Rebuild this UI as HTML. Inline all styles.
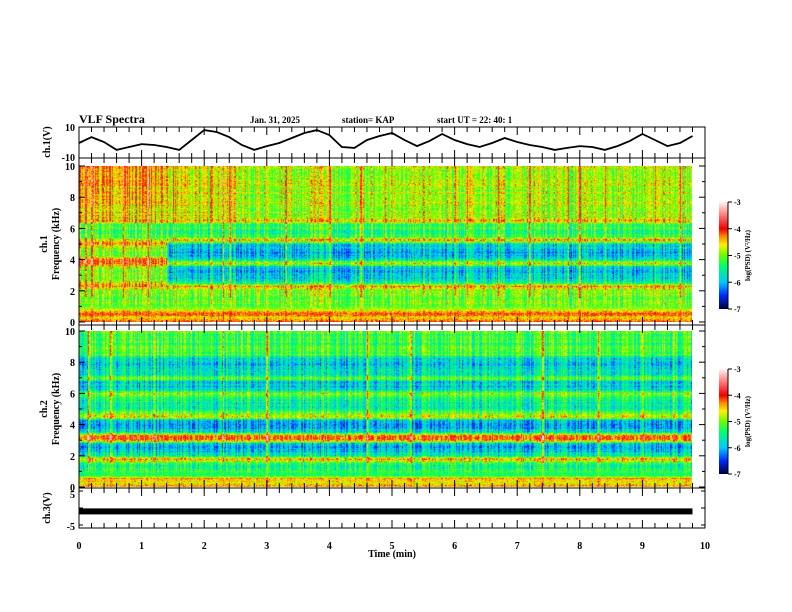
<!DOCTYPE html>
<html><head><meta charset="utf-8">
<style>
html,body{margin:0;padding:0;background:#fff;}
#wrap{position:relative;width:792px;height:612px;overflow:hidden;font-family:"Liberation Serif",serif;}
canvas{position:absolute;}
svg{position:absolute;left:0;top:0;}
text{font-family:"Liberation Serif",serif;font-weight:bold;fill:#000;}
</style></head>
<body>
<div id="wrap">
<canvas id="spec1" width="613" height="156" style="left:79px;top:166px"></canvas>
<canvas id="spec2" width="613" height="156" style="left:79px;top:331px"></canvas>
<svg id="svg" width="792" height="612"></svg>
</div>
<script>
// ---- data ----
const ch1Times = [0,0.2,0.4,0.6,0.8,1.0,1.2,1.4,1.6,1.8,2.0,2.2,2.4,2.6,2.8,3.0,3.2,3.4,3.6,3.8,4.0,4.2,4.4,4.6,4.8,5.0,5.2,5.4,5.6,5.8,6.0,6.2,6.4,6.6,6.8,7.0,7.2,7.4,7.6,7.8,8.0,8.2,8.4,8.6,8.8,9.0,9.2,9.4,9.6,9.8];
const ch1Volts = [-0.3,3.5,0.3,-4.8,-2.9,-1,-1.6,-2.9,-4.8,1.6,8,6.8,3.5,-1.6,-4.8,-2.3,-0.3,2.9,6.1,8,4.8,-2.9,-3.5,1.6,4.2,6.1,1.6,-2.3,1,5.5,1.6,-1,-2.9,-0.3,2.9,0.3,-1.6,-2.9,-4.8,-3.5,-2.3,-2.9,-4.8,-2.3,1,5.5,1.6,-2.3,-0.3,4.2];
const ch3Level = -1.0;
const freqs = [0,0.25,0.5,0.75,1,1.25,1.5,1.75,2,2.25,2.5,2.75,3,3.25,3.5,3.75,4,4.25,4.5,4.75,5,5.25,5.5,5.75,6,6.25,6.5,6.75,7,7.25,7.5,7.75,8,8.25,8.5,8.75,9,9.25,9.5,9.75,10];
const ch1Early = [-4.3,-4.5,-4.2,-4.7,-5.0,-4.9,-5.1,-4.9,-5.0,-4.3,-4.6,-5.1,-5.0,-4.9,-4.8,-4.1,-4.2,-5.1,-5.0,-4.9,-4.2,-4.7,-5.2,-5.3,-5.1,-5.2,-4.2,-4.8,-4.7,-4.8,-4.7,-4.6,-4.7,-4.6,-4.7,-4.6,-4.5,-4.6,-4.5,-4.6,-4.5];
const ch1Late  = [-4.3,-4.5,-4.2,-4.7,-5.0,-4.9,-5.1,-4.9,-5.0,-4.3,-5.5,-5.9,-6.0,-5.9,-5.9,-4.6,-5.8,-6.0,-6.1,-5.9,-5.8,-4.3,-5.3,-5.4,-5.2,-5.3,-4.3,-4.9,-4.8,-4.9,-4.8,-4.8,-4.9,-4.8,-4.9,-4.8,-4.8,-4.9,-4.8,-4.9,-4.8];
const ch2Profile = [-4.4,-4.6,-4.3,-5.4,-5.3,-5.5,-5.2,-4.4,-5.6,-5.9,-6.0,-5.9,-4.2,-4.1,-5.7,-6.0,-6.1,-5.9,-4.6,-5.1,-5.5,-5.6,-5.5,-5.4,-4.9,-5.8,-5.9,-5.9,-5.0,-5.7,-5.8,-5.9,-5.9,-5.8,-5.2,-5.3,-5.2,-5.3,-5.2,-5.3,-5.2];
const ch1Switch = 1.4;
const ch1Spikes = [0.1,0.2,0.7,1.1,1.5,2.3,2.4,3.3,3.8,4.0,4.5,4.9,5.5,6.0,6.2,6.7,7.2,7.8,8.0,8.4,9.2,9.6];
const ch2Spikes = [0.15,0.5,1.2,2.3,3.0,3.9,4.6,5.3,6.6,7.4,8.3,9.0,9.5];
const xTicks = [0,1,2,3,4,5,6,7,8,9,10];
const specTicks = [0,2,4,6,8,10];
const cbTicks = [-3,-4,-5,-6,-7];
const dataEnd = 9.8;

// ---- scales ----
const X0=79,X1=705;
const xs = t => X0 + t/10*(X1-X0);
function hash(a,b){let h=(a*374761393+b*668265263)|0;h=(h^(h>>>13))*1274126177|0;return ((h^(h>>>16))>>>0)/4294967295;}
const stops=[[-7,[0,0,60]],[-6.5,[0,40,255]],[-6,[0,200,255]],[-5.4,[0,255,110]],[-5,[100,255,0]],[-4.6,[255,240,0]],[-4.3,[255,140,0]],[-4,[240,0,0]],[-3.5,[255,120,120]],[-3,[255,245,245]]];
function cmap(v){v=Math.max(-7,Math.min(-3,v));for(let i=0;i<stops.length-1;i++){const[a,ca]=stops[i],[b,cb]=stops[i+1];if(v<=b){const f=(v-a)/(b-a);return ca.map((c,k)=>Math.round(c+f*(cb[k]-c)));}}return stops[stops.length-1][1];}
function interp(prof,f){const i=Math.min(39,Math.floor(f/0.25));const r=f/0.25-i;return prof[i]*(1-r)+prof[i+1]*r;}

function drawSpec(id,profFn,spikes,seed){
  const c=document.getElementById(id),ctx=c.getContext('2d');const W=c.width,H=c.height;
  const img=ctx.createImageData(W,H);
  for(let x=0;x<W;x++){
    const t=x/(X1-X0)*10;
    const col=(hash(x,seed)-0.5)*0.9;
    let sp=0;for(const s of spikes){if(Math.abs(xs(s)-X0-x)<0.8)sp=0.8;}
    for(let y=0;y<H;y++){
      const f=(1-y/(H-1))*10;
      const row=(hash(y,seed+5)-0.5)*0.3;
      let v=profFn(f,t)+col*(f>1?1:0.3)+row+(hash(x*7+y,y*13+seed)-0.5)*0.6+sp*(f>1.5?1:0.3);
      const rgb=cmap(v);const o=(y*W+x)*4;
      img.data[o]=rgb[0];img.data[o+1]=rgb[1];img.data[o+2]=rgb[2];img.data[o+3]=255;
    }
  }
  ctx.putImageData(img,0,0);
}
drawSpec('spec1',(f,t)=>interp(t<ch1Switch?ch1Early:ch1Late,f)+(t<2.6&&f>6.7?0.2:0),ch1Spikes,11);
drawSpec('spec2',(f,t)=>interp(ch2Profile,f),ch2Spikes,29);

// ---- svg ----
const svg=document.getElementById('svg');const NS='http://www.w3.org/2000/svg';
function el(tag,attrs,parent){const e=document.createElementNS(NS,tag);for(const k in attrs)e.setAttribute(k,attrs[k]);(parent||svg).appendChild(e);return e;}
function txt(x,y,s,size,anchor,name,rot){const e=el('text',{x:x,y:y,'font-size':size,'text-anchor':anchor||'start'});if(rot)e.setAttribute('transform',`rotate(-90 ${x} ${y})`);e.textContent=s;


return e;}
function box(y0,y1,name){const r=el('rect',{x:X0,y:y0,width:X1-X0,height:y1-y0,fill:'none',stroke:'#000','stroke-width':1});


for(let t=0;t<=10.001;t+=0.2){const maj=Math.abs(t-Math.round(t))<0.01;const L=maj?8:5;const x=xs(t);
el('line',{x1:x,y1:y0,x2:x,y2:y0+L,stroke:'#000'});el('line',{x1:x,y1:y1,x2:x,y2:y1-L,stroke:'#000'});}}
box(127,158,'ch1-waveform-panel');
const vy=v=>142.5-v/20*31;
let d='';ch1Times.forEach((t,i)=>{d+=(i?'L':'M')+xs(t).toFixed(1)+','+vy(ch1Volts[i]).toFixed(1);});
const wl=el('path',{d:d,fill:'none',stroke:'#000','stroke-width':1.8});


txt(75,131,'10',10,'end','ch1-ytick-10');txt(75,161,'-10',10,'end','ch1-ytick-neg10');
txt(50,142,'ch.1(V)',10,'middle','ch1-y-title',true);
function specPanel(y0,y1,d0,d1,label,name){
  box(y0,y1,name+'-panel');
  const fy=f=>d1-(f/10)*(d1-d0);
  for(let f=0;f<=10;f++){const L=f%2==0?6:3;el('line',{x1:X0,y1:fy(f),x2:X0+L,y2:fy(f),stroke:'#000'});el('line',{x1:X1,y1:fy(f),x2:X1-L,y2:fy(f),stroke:'#000'});}
  specTicks.forEach(f=>txt(75,fy(f)+4,String(f),10,'end',name+'-ytick-'+f));
  txt(47,(d0+d1)/2,label,10,'middle',name+'-channel-title',true);
  txt(59,(d0+d1)/2,'Frequency (kHz)',10,'middle',name+'-y-title',true);
}
specPanel(158,325,166,322,'ch.1','ch1-spectrogram');
specPanel(325,488,331,487,'ch.2','ch2-spectrogram');
box(488,528,'ch3-panel');
const c3y=v=>508-v/10*34;
const bar=el('rect',{x:X0,y:c3y(ch3Level)-3,width:xs(dataEnd)-X0,height:6,fill:'#000'});


[-5,0,5].forEach(v=>{el('line',{x1:X0,y1:c3y(v),x2:X0+4,y2:c3y(v),stroke:'#000'});el('line',{x1:X1,y1:c3y(v),x2:X1-4,y2:c3y(v),stroke:'#000'});});
txt(75,498,'5',10,'end','ch3-ytick-5');txt(75,530,'-5',10,'end','ch3-ytick-neg5');
txt(50,508,'ch.3(V)',10,'middle','ch3-y-title',true);
xTicks.forEach(t=>txt(xs(t),549,String(t),10,'middle','x-tick-'+t));
txt(392,557,'Time  (min)',10,'middle','x-axis-title');
txt(79,123,'VLF Spectra',12,'start','figure-title');
txt(250,123,'Jan. 31, 2025',9,'start','date-label');
txt(342,123,'station= KAP',9,'start','station-label');
txt(437,123,'start  UT =   22: 40: 1',9,'start','start-time-label');
const defs=el('defs',{});const g=el('linearGradient',{id:'cb',x1:0,y1:1,x2:0,y2:0},defs);
stops.forEach(([v,c])=>el('stop',{offset:((v+7)/4).toFixed(3),'stop-color':`rgb(${c.join(',')})`},g));
function colorbar(y0,y1,name){
  const r=el('rect',{x:719,y:y0,width:9,height:y1-y0,fill:'url(#cb)'});
  
  
  el('line',{x1:728,y1:y0,x2:728,y2:y1,stroke:'#000'});
  cbTicks.forEach(v=>{const y=y1-(v+7)/4*(y1-y0);el('line',{x1:728,y1:y,x2:732,y2:y,stroke:'#000'});txt(734,y+3,String(v),8,'start',name+'-tick');});
  txt(750,(y0+y1)/2,'log(PSD) (V²/Hz)',7,'middle',name+'-title',true);
}
colorbar(202,309,'ch1-colorbar');
colorbar(369,474,'ch2-colorbar');
</script>
</body></html>
